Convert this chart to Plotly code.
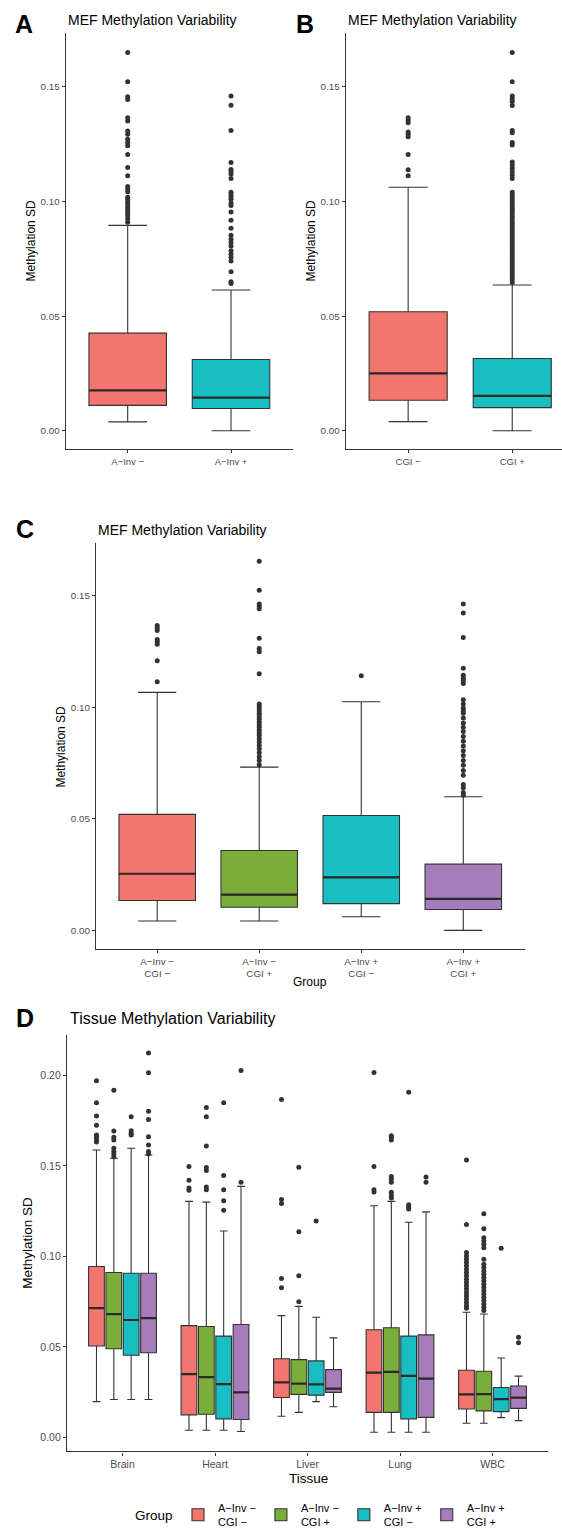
import plotly.graph_objects as go

FONT = "Liberation Sans, Arial, Helvetica, sans-serif"
W, H = 562, 1536
LINE = "#333333"
TICKC = "#4D4D4D"
OUTC = "#333333"

# ---------------- Panel A ----------------
a_cats = ["A−Inv −", "A−Inv +"]
a_q1 = [0.0111, 0.0097]
a_med = [0.0176, 0.0145]
a_q3 = [0.0426, 0.0311]
a_lo = [0.0039, 0.0000]
a_hi = [0.0896, 0.0614]
a_out = [
    [0.165, 0.1522, 0.1457, 0.1445, 0.1366, 0.1351, 0.1308, 0.1293, 0.1272, 0.1257,
     0.1243, 0.1205, 0.1149, 0.1113, 0.1066, 0.1055, 0.1043, 0.1019, 0.1009, 0.0997,
     0.0986, 0.0974, 0.0962, 0.0951, 0.0939, 0.0925, 0.0910],
    [0.146, 0.142, 0.131, 0.117, 0.114, 0.113, 0.112, 0.110, 0.104, 0.103, 0.102,
     0.101, 0.0994, 0.0983, 0.0954, 0.0918, 0.0884, 0.0853, 0.0835, 0.0821, 0.0806,
     0.0785, 0.0770, 0.0756, 0.0741, 0.0694, 0.0650, 0.0642],
]

# ---------------- Panel B ----------------
b_cats = ["CGI −", "CGI +"]
b_q1 = [0.0133, 0.0101]
b_med = [0.0250, 0.0152]
b_q3 = [0.0519, 0.0315]
b_lo = [0.0040, 0.0000]
b_hi = [0.1062, 0.0636]
b_out = [
    [0.1366, 0.1355, 0.1344, 0.1303, 0.1293, 0.1283, 0.1205, 0.1139, 0.1113],
    [0.165, 0.1522, 0.146, 0.1448, 0.1436, 0.1419, 0.131, 0.130, 0.1257, 0.1247,
     0.1173, 0.1159, 0.1145, 0.113, 0.1116, 0.1101, 0.1040, 0.1029, 0.1017, 0.1006,
     0.0994, 0.0983, 0.0971, 0.0960, 0.0948, 0.0936, 0.0925, 0.0913, 0.0902, 0.0890,
     0.0879, 0.0867, 0.0855, 0.0844, 0.0832, 0.0821, 0.0809, 0.0798, 0.0786, 0.0775,
     0.0763, 0.0751, 0.0740, 0.0728, 0.0717, 0.0705, 0.0694, 0.0682, 0.0671, 0.0659,
     0.0647],
]

# ---------------- Panel C ----------------
c_cats = ["A−Inv −<br>CGI −", "A−Inv −<br>CGI +", "A−Inv +<br>CGI −", "A−Inv +<br>CGI +"]
c_q1 = [0.0134, 0.0104, 0.0120, 0.0094]
c_med = [0.0254, 0.0160, 0.0238, 0.0141]
c_q3 = [0.0520, 0.0358, 0.0515, 0.0297]
c_lo = [0.0042, 0.0042, 0.0061, 0.0000]
c_hi = [0.1067, 0.0732, 0.1025, 0.0599]
c_out = [
    [0.1367, 0.1355, 0.1344, 0.1304, 0.1294, 0.1282, 0.1208, 0.1114],
    [0.1655, 0.1524, 0.1463, 0.1453, 0.1442, 0.1309, 0.1263, 0.1249, 0.1150, 0.1015,
     0.1004, 0.0992, 0.0980, 0.0969, 0.0957, 0.0945, 0.0933, 0.0921, 0.0909, 0.0897,
     0.0885, 0.0873, 0.0859, 0.0844, 0.0829, 0.0814, 0.0796, 0.0778, 0.0761, 0.0743],
    [0.1141],
    [0.1463, 0.1423, 0.1313, 0.1175, 0.1144, 0.1130, 0.1119, 0.1107, 0.1034, 0.1015,
     0.0997, 0.0985, 0.0973, 0.0952, 0.0930, 0.0911, 0.0891, 0.0869, 0.0848, 0.0826,
     0.0805, 0.0784, 0.0762, 0.0740, 0.0717, 0.0695, 0.0654, 0.0639, 0.0618, 0.0606],
]

# ---------------- Panel D ----------------
tissues = ["Brain", "Heart", "Liver", "Lung", "WBC"]
groups = ["A−Inv −<br>CGI −", "A−Inv −<br>CGI +", "A−Inv +<br>CGI −", "A−Inv +<br>CGI +"]
d_q1 = [
    [0.0505, 0.0125, 0.0221, 0.0139, 0.0157],
    [0.0490, 0.0128, 0.0238, 0.0139, 0.0147],
    [0.0454, 0.0103, 0.0234, 0.0103, 0.0143],
    [0.0468, 0.0099, 0.0249, 0.0111, 0.0161],
]
d_med = [
    [0.0714, 0.0350, 0.0304, 0.0358, 0.0238],
    [0.0681, 0.0333, 0.0298, 0.0362, 0.0240],
    [0.0649, 0.0295, 0.0293, 0.0340, 0.0212],
    [0.0659, 0.0249, 0.0270, 0.0325, 0.0220],
]
d_q3 = [
    [0.0944, 0.0618, 0.0435, 0.0595, 0.0371],
    [0.0911, 0.0613, 0.0430, 0.0606, 0.0366],
    [0.0907, 0.0560, 0.0423, 0.0560, 0.0276],
    [0.0907, 0.0624, 0.0375, 0.0567, 0.0284],
]
d_lo = [
    [0.0198, 0.0040, 0.0117, 0.0029, 0.0079],
    [0.0210, 0.0040, 0.0139, 0.0029, 0.0079],
    [0.0210, 0.0040, 0.0198, 0.0029, 0.0110],
    [0.0210, 0.0033, 0.0170, 0.0029, 0.0093],
]
d_hi = [
    [0.1588, 0.1304, 0.0673, 0.1280, 0.0692],
    [0.1542, 0.1300, 0.0724, 0.1304, 0.0682],
    [0.1597, 0.1140, 0.0664, 0.1189, 0.0439],
    [0.1560, 0.1387, 0.0550, 0.1246, 0.0339],
]
d_out = [
    [  # A-Inv - CGI -
        [0.197, 0.1848, 0.1775, 0.1725, 0.167, 0.1658, 0.1643, 0.1632],
        [0.1497, 0.142, 0.1378, 0.1365],
        [0.1866, 0.1314, 0.1292, 0.0878, 0.0827],
        [0.2016, 0.1497, 0.1368, 0.1356],
        [0.1533, 0.1176, 0.1021, 0.1003, 0.0984, 0.0966, 0.0948, 0.0929, 0.0911, 0.0893,
         0.0874, 0.0856, 0.0838, 0.0820, 0.0801, 0.0783, 0.0765, 0.0746, 0.0728, 0.0714],
    ],
    [  # A-Inv - CGI +
        [0.1917, 0.1692, 0.1658, 0.1643, 0.1597, 0.1579, 0.1566, 0.1551],
        [0.1822, 0.1771, 0.161, 0.1491, 0.1475, 0.1383, 0.1368],
        [0.1493, 0.1136, 0.0893, 0.075],
        [0.1667, 0.1658, 0.1643, 0.1442, 0.1427, 0.1409, 0.1354, 0.1336, 0.1323],
        [0.1235, 0.1153, 0.1103, 0.1085, 0.1067, 0.1048, 0.0984, 0.0957, 0.0939, 0.0920,
         0.0902, 0.0884, 0.0865, 0.0847, 0.0829, 0.0810, 0.0792, 0.0774, 0.0756, 0.0737,
         0.0719, 0.0701],
    ],
    [  # A-Inv + CGI -
        [0.1771, 0.1694, 0.168, 0.167],
        [0.1848, 0.1447, 0.1368, 0.1308, 0.1255],
        [0.1195],
        [0.1906, 0.1286, 0.1273, 0.1262],
        [0.1045],
    ],
    [  # A-Inv + CGI +
        [0.2124, 0.2014, 0.1802, 0.1756, 0.1661, 0.1615, 0.1579, 0.1566],
        [0.2027, 0.141],
        [],
        [0.1438, 0.1409],
        [0.0554, 0.0523],
    ],
]

col2 = ["#F3766E", "#19BEC3"]
col4 = ["#F3766E", "#7AAE3A", "#19BEC3", "#A67DBA"]
d_offsets = [-0.28125, -0.09375, 0.09375, 0.28125]

fig = go.Figure()


def median_bar(x, med, width, xa, ya):
    # thicker median line, drawn as a flat box at the median
    fig.add_trace(go.Box(
        x=x, q1=med, median=med, q3=med, lowerfence=med, upperfence=med,
        fillcolor="rgba(0,0,0,0)", line=dict(color="#2a2a2a", width=2.2),
        width=width, boxpoints=False, showlegend=False, hoverinfo="skip",
        xaxis=xa, yaxis=ya))


def add_panel(cats, q1, med, q3, lo, hi, outs, colors, xa, ya):
    for i, c in enumerate(cats):
        fig.add_trace(go.Box(
            x=[c], q1=[q1[i]], median=[med[i]], q3=[q3[i]],
            lowerfence=[lo[i]], upperfence=[hi[i]],
            fillcolor=colors[i], line=dict(color=LINE, width=1.1),
            width=0.75, boxpoints=False, showlegend=False,
            hoverinfo="skip", xaxis=xa, yaxis=ya))
        median_bar([c], [med[i]], 0.75, xa, ya)
        fig.add_trace(go.Scatter(
            x=[c] * len(outs[i]), y=outs[i], mode="markers",
            marker=dict(size=5, color=OUTC), showlegend=False,
            hoverinfo="skip", xaxis=xa, yaxis=ya))


add_panel(a_cats, a_q1, a_med, a_q3, a_lo, a_hi, a_out, col2, "x", "y")
add_panel(b_cats, b_q1, b_med, b_q3, b_lo, b_hi, b_out, col2, "x2", "y2")
add_panel(c_cats, c_q1, c_med, c_q3, c_lo, c_hi, c_out, col4, "x3", "y3")

for g in range(4):
    pos = [t + 1 + d_offsets[g] for t in range(len(tissues))]
    fig.add_trace(go.Box(
        x=pos, q1=d_q1[g], median=d_med[g], q3=d_q3[g],
        lowerfence=d_lo[g], upperfence=d_hi[g],
        fillcolor=col4[g], line=dict(color=LINE, width=1.1),
        width=0.17, boxpoints=False, name=groups[g], showlegend=True,
        legendgroup=groups[g], hoverinfo="skip", xaxis="x4", yaxis="y4"))
    median_bar(pos, d_med[g], 0.17, "x4", "y4")
    ox, oy = [], []
    for t in range(len(tissues)):
        for v in d_out[g][t]:
            ox.append(t + 1 + d_offsets[g])
            oy.append(v)
    fig.add_trace(go.Scatter(
        x=ox, y=oy, mode="markers", marker=dict(size=5, color=OUTC),
        showlegend=False, legendgroup=groups[g], hoverinfo="skip",
        xaxis="x4", yaxis="y4"))


def px_x(p):
    return p / W


def px_y(p):
    return 1 - p / H


axis_common = dict(showline=True, linecolor=LINE, linewidth=1.2, ticks="outside",
                   ticklen=3, tickcolor=LINE, tickwidth=1, showgrid=False,
                   zeroline=False, fixedrange=True)

fig.update_layout(
    width=W, height=H, autosize=False,
    margin=dict(l=0, r=0, t=0, b=0),
    paper_bgcolor="white", plot_bgcolor="white",
    font=dict(family=FONT, color="black"),
    boxmode="overlay",
    xaxis=dict(domain=[px_x(65.7), px_x(293)], anchor="y", type="category",
               categoryorder="array", categoryarray=a_cats, range=[-0.6, 1.6],
               tickfont=dict(size=9.5, color=TICKC), **axis_common),
    yaxis=dict(domain=[px_y(452), px_y(33)], anchor="x", range=[-0.0081, 0.1736],
               tick0=0, dtick=0.05, tickformat=".2f",
               tickfont=dict(size=9.8, color=TICKC), **axis_common),
    xaxis2=dict(domain=[px_x(345.7), 1.0], anchor="y2", type="category",
                categoryorder="array", categoryarray=b_cats, range=[-0.6, 1.478],
                tickfont=dict(size=9.5, color=TICKC), **axis_common),
    yaxis2=dict(domain=[px_y(452), px_y(33)], anchor="x2", range=[-0.0081, 0.1736],
                tick0=0, dtick=0.05, tickformat=".2f",
                tickfont=dict(size=9.8, color=TICKC), **axis_common),
    xaxis3=dict(domain=[px_x(96), px_x(524.5)], anchor="y3", type="category",
                categoryorder="array", categoryarray=c_cats, range=[-0.6, 3.6],
                tickfont=dict(size=9.8, color=TICKC), **axis_common),
    yaxis3=dict(domain=[px_y(954.3), px_y(546.7)], anchor="x3", range=[-0.0082, 0.1734],
                tick0=0, dtick=0.05, tickformat=".2f",
                tickfont=dict(size=9.8, color=TICKC), **axis_common),
    xaxis4=dict(domain=[px_x(67), px_x(548)], anchor="y4", range=[0.4, 5.6],
                tickvals=list(range(1, len(tissues) + 1)), ticktext=tissues,
                tickfont=dict(size=10.5, color=TICKC), **axis_common),
    yaxis4=dict(domain=[px_y(1460), px_y(1040.7)], anchor="x4", range=[-0.0077, 0.2225],
                tick0=0, dtick=0.05, tickformat=".2f",
                tickfont=dict(size=10.5, color=TICKC), **axis_common),
    legend=dict(orientation="h", x=px_x(178), xanchor="left",
                y=px_y(1524), yanchor="middle",
                font=dict(size=11), itemwidth=30, tracegroupgap=0,
                bgcolor="rgba(0,0,0,0)"),
)

ann = []


def add_text(text, x, y, size, xanchor="center", bold=False, angle=0):
    ann.append(dict(text=("<b>%s</b>" % text) if bold else text,
                    x=px_x(x), y=px_y(y), xref="paper", yref="paper",
                    xanchor=xanchor, yanchor="middle", showarrow=False,
                    textangle=angle, font=dict(size=size, color="black", family=FONT)))


# panel letters
add_text("A", 24, 24, 25, bold=True)
add_text("B", 305, 24, 25, bold=True)
add_text("C", 25, 532, 25, bold=True)
add_text("D", 25, 1024, 25, bold=True)
# titles
add_text("MEF Methylation Variability", 65.7, 20, 14, xanchor="left")
add_text("MEF Methylation Variability", 345.7, 20, 14, xanchor="left")
add_text("MEF Methylation Variability", 96, 533, 14, xanchor="left")
add_text("Tissue Methylation Variability", 68, 1025, 16, xanchor="left")
# y axis titles
add_text("Methylation SD", 31, 242, 12, angle=-90)
add_text("Methylation SD", 311, 242, 12, angle=-90)
add_text("Methylation SD", 61, 751, 12, angle=-90)
add_text("Methylation SD", 28, 1250, 13.5, angle=-90)
# x axis titles
add_text("Group", 310, 988, 12)
add_text("Tissue", 308, 1487, 13.5)
# legend title
add_text("Group", 154, 1524, 13.5)

fig.update_layout(annotations=ann)

fig.write_html("out.html")
